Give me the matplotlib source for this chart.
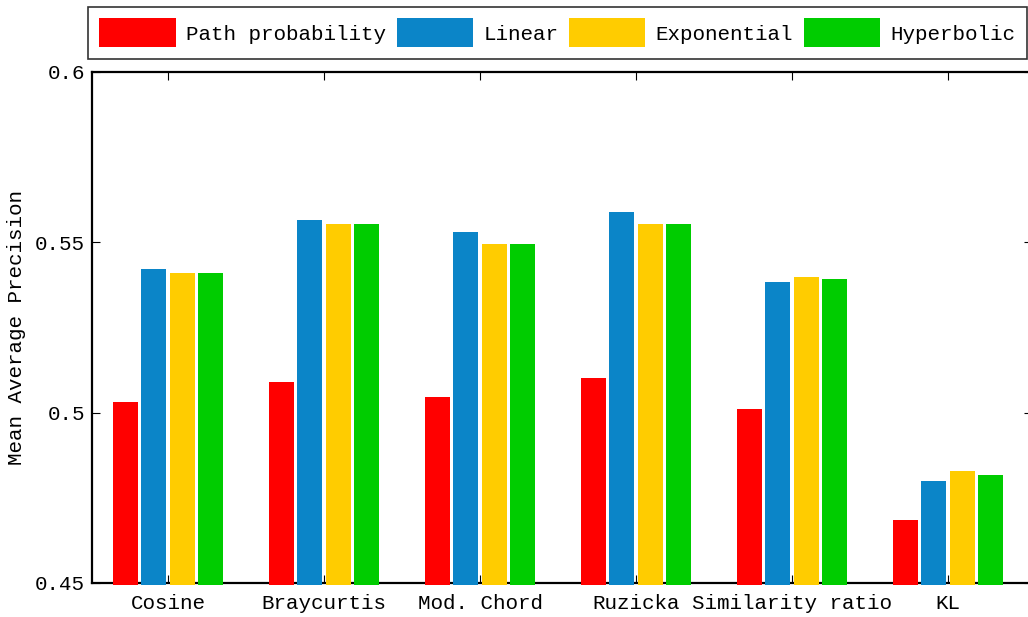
import numpy as np
import matplotlib
matplotlib.use('Agg')
import matplotlib.pyplot as plt

plt.rcParams['font.family'] = ['Liberation Mono', 'DejaVu Sans Mono']
plt.rcParams['font.size'] = 15

measures = ['Cosine', 'Braycurtis', 'Mod. Chord', 'Ruzicka', 'Similarity ratio', 'KL']
series_names = ['Path probability', 'Linear', 'Exponential', 'Hyperbolic']
colors = ['#FF0000', '#0B85C8', '#FFCC00', '#00CC00']

path_probability = [0.5036, 0.5097, 0.5053, 0.5109, 0.5018, 0.4692]
linear = [0.5429, 0.5573, 0.5535, 0.5596, 0.5391, 0.4804]
exponential = [0.5417, 0.5561, 0.5502, 0.5561, 0.5403, 0.4836]
hyperbolic = [0.5417, 0.5561, 0.5502, 0.5561, 0.5397, 0.4824]

y_ticks = [0.45, 0.5, 0.55, 0.6]
y_tick_labels = ['0.45', '0.5', '0.55', '0.6']

def draw_chart():
	fig = plt.figure(figsize=(10.28, 6.17), dpi=100)
	# axes runs past the right edge, so the right spine is cut off
	ax = fig.add_axes([92 / 1028, 34 / 617, 940 / 1028, 511 / 617])

	x = np.arange(len(measures))
	width = 0.16
	step = 0.18
	all_series = [path_probability, linear, exponential, hyperbolic]
	bottom = 0.45
	for i, (vals, name, col) in enumerate(zip(all_series, series_names, colors)):
		heights = np.array(vals) - bottom
		ax.bar(x + (i - 1.5) * step, heights, width, bottom=bottom - 0.0006,
			color=col, label=name, zorder=3, clip_on=False)

	ax.set_xlim(-76 / 156, -76 / 156 + 940 / 156)
	ax.set_ylim(0.45, 0.6)
	ax.set_xticks(x)
	ax.set_xticklabels(measures)
	ax.set_yticks(y_ticks)
	ax.set_yticklabels(y_tick_labels)
	ax.tick_params(direction='in', length=6, width=0.8, top=True, right=True)
	ax.tick_params(axis='x', pad=8)
	ax.tick_params(axis='y', pad=5)
	for s in ax.spines.values():
		s.set_linewidth(1.6)

	ax.set_ylabel('Mean Average Precision')
	ax.yaxis.set_label_coords(-66 / 940, 0.5)

	leg = fig.legend(loc='upper left', bbox_to_anchor=(88 / 1028, 1 - 7 / 617, 939 / 1028, 0.0),
		mode='expand', ncol=4, frameon=True, fancybox=False, edgecolor='black',
		handlelength=3.65, handleheight=1.75, handletextpad=0.5, columnspacing=0.4,
		borderpad=0.55, borderaxespad=0.0)
	leg.get_frame().set_linewidth(1.2)

	fig.savefig('out.png', dpi=100)

def main():
	draw_chart()

if '__main__' == __name__:
	main()
